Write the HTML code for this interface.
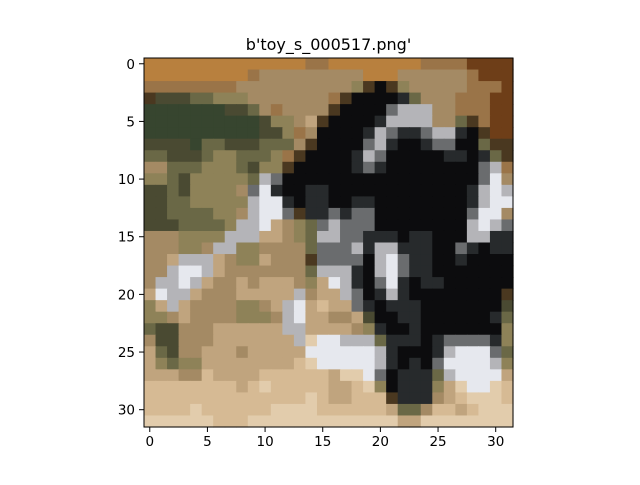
<!DOCTYPE html>
<html><head><meta charset="utf-8"><style>
html,body{margin:0;padding:0;background:#fff;}
svg text{font-family:"DejaVu Sans","Liberation Sans",sans-serif;fill:#000;}
</style></head><body>
<svg id="chart" width="640" height="480" viewBox="0 0 640 480" xmlns="http://www.w3.org/2000/svg">
<rect width="640" height="480" fill="#fff"/>
<text x="328.5" y="50" font-size="16" text-anchor="middle">b'toy_s_000517.png'</text>
<g id="cells"></g>
<rect x="144" y="58" width="369" height="369" fill="none" stroke="#000" stroke-width="1"/>
<g id="xticks"></g>
<g id="yticks"></g>
</svg>
<script>
const palette = {K:"#0c0c0e",k:"#272a2c",M:"#6a6c6e",L:"#b4b4b8",W:"#e6e8ee",T:"#a48a64",t:"#c0a47e",S:"#d6ba94",P:"#e2ccac",Y:"#8e8258",g:"#6a6846",D:"#4a4a32",G:"#37452f",O:"#b8803e",o:"#9a7448",R:"#6e3e18",B:"#4a3820"};
const pixelRows = [
"OOOOOOOOOOOOOOooOOOOOOOOooooRRRR",
"OOOOOOOOOoTTTTTTTTTOOOTTTTTToRRR",
"ooooooooTTTTTTTTTTYBKBYTTTTToooR",
"BDDDggYYYTTTTTTToBKKKKkgTTToooRR",
"GGGGGGGDDgToTTTTBKKKKMLLLTToooRR",
"GGGGGGGGGGDYYTtBKKKKkLLLLTTgBoRR",
"GGGGGGGGGGDDYoTKKKKkLMkkMLLkKBRR",
"DDDDGggDDDgggTBKKKKMLkKKkMMKKgBB",
"ggDDDgYYgggYoBKKKKkLMKKKKKkkKkgB",
"TTgggYYYgDYYBKKKKKkMkKKKKKKKKMLo",
"YYgDYYYYYgLMKKKKKKKKKKKKKKKKKMWT",
"DDgDYYYYTMWkKKkkKKKKKKKKKKKKkLWL",
"DDggYYYYYLWWkKkkKKkkKKKKKKKKkLWW",
"DDggggYYTLWWMBkkMkMMKKKKKKKKMWWT",
"DDDggggYLLWtTYgMLMMMKKKKKKKKLWLM",
"TTTYYYYLLLttTYgLLMMkkkKkkKKKLLkk",
"TTTYYTLLYYTTTTgMMMLkLLkkkKKMkKkk",
"TTtLLLtTYYtTTTBMMMMKLWMkkKKkKKKK",
"TTLWWLtTTTTTTTgLLLkKLWMkkKKKKKKK",
"TLLWLtTTtTtttTYtWLkKMWkKkkKKKKKK",
"tWLLtTTTtttttLTttLMKkLkKKKKKKKKB",
"YtLtTTTTYYTtLWtSttMkKkkkKKKKKKKD",
"YYTtTTTTYYYTLWttTTtDKKkkKKKKKKkg",
"gDDTTTttttttLLttttTYkKKkKKKKKKKY",
"TDDTTTtttttttLPWWLLLgkkkKkMMMMkY",
"tgDTTtttTtttttWWWWWWLkKKKkLWWWMg",
"tYgYYttttttttSPWWWWWLkKkKMWWWWLY",
"tttTTSttttSSSSSStPPWMKkkkgLWWWWt",
"SSSSSSSStSPSSSSSttSPYKkkkYtPWWPS",
"SSSSSSSSSSSSSSPSttSSSBkkkTtSPPPS",
"SSSSPSSSSSSPPPPSSSSSStggTSStSPPP",
"PPPPPPSSSPPPPPPPPPPPPPttPPPPPPPP"
];
const xTickValues = [0,5,10,15,20,25,30];
const yTickValues = [0,5,10,15,20,25,30];

const NS="http://www.w3.org/2000/svg";
const X0=144, Y0=58, SIZE=369, N=pixelRows.length;
const cell=SIZE/N;
function xPos(v){return X0+(v+0.5)*cell;}
function yPos(v){return Y0+(v+0.5)*cell;}
const g=document.getElementById('cells');
pixelRows.forEach((row,r)=>{
  [...row].forEach((ch,c)=>{
    const rc=document.createElementNS(NS,'rect');
    rc.setAttribute('x',(X0+c*cell).toFixed(2));
    rc.setAttribute('y',(Y0+r*cell).toFixed(2));
    rc.setAttribute('width',(cell+0.6).toFixed(2));
    rc.setAttribute('height',(cell+0.6).toFixed(2));
    rc.setAttribute('fill',palette[ch]||'#888');
    
    
    g.appendChild(rc);
  });
});
const xg=document.getElementById('xticks');
xTickValues.forEach(v=>{
  const x=xPos(v);
  const l=document.createElementNS(NS,'line');
  l.setAttribute('x1',x);l.setAttribute('x2',x);l.setAttribute('y1',427);l.setAttribute('y2',432);
  l.setAttribute('stroke','#000');
  
  
  xg.appendChild(l);
  const t=document.createElementNS(NS,'text');
  t.setAttribute('x',x);t.setAttribute('y',446);t.setAttribute('font-size','13.5');t.setAttribute('text-anchor','middle');
  t.textContent=v;
  
  
  xg.appendChild(t);
});
const yg=document.getElementById('yticks');
yTickValues.forEach(v=>{
  const y=yPos(v);
  const l=document.createElementNS(NS,'line');
  l.setAttribute('x1',139);l.setAttribute('x2',144);l.setAttribute('y1',y);l.setAttribute('y2',y);
  l.setAttribute('stroke','#000');
  
  
  yg.appendChild(l);
  const t=document.createElementNS(NS,'text');
  t.setAttribute('x',135);t.setAttribute('y',y+5);t.setAttribute('font-size','13.5');t.setAttribute('text-anchor','end');
  t.textContent=v;
  
  
  yg.appendChild(t);
});
</script>
</body></html>
